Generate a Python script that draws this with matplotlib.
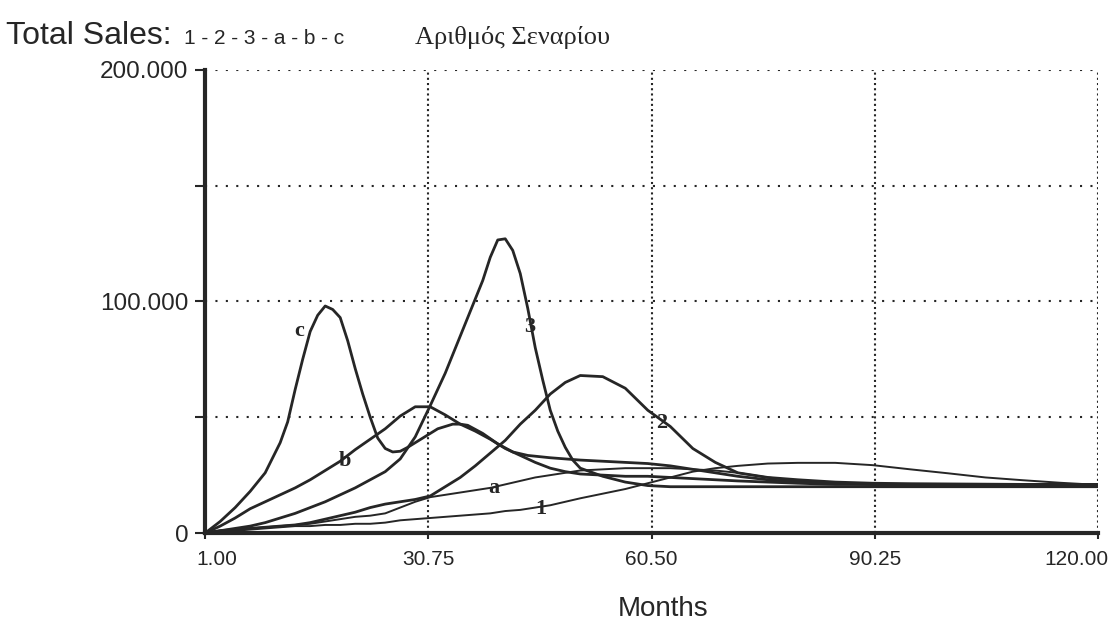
import matplotlib.pyplot as plt
from matplotlib.ticker import FixedLocator, FuncFormatter
from matplotlib.transforms import ScaledTranslation

# months sampled for the slower curves
months = [1, 3, 5, 7, 9, 11, 13, 15, 17, 19, 21, 23, 25, 27, 29, 31, 33, 35, 37, 39,
          41, 43, 45, 47, 49, 51, 54, 57, 60, 63, 66, 69, 72, 76, 80, 85, 90, 95, 100,
          105, 110, 115, 120]
# finer sampling around the sharp peaks of 3 and c
months_3 = [1, 3, 5, 7, 9, 11, 13, 15, 17, 19, 21, 23, 25, 27, 29, 31, 33, 35, 36, 37,
            38, 39, 40, 41, 42, 43, 44, 45, 46, 47, 48, 49, 50, 51, 54, 57, 60, 63, 66,
            70, 80, 90, 100, 110, 120]
months_c = [1, 3, 5, 7, 9, 11, 12, 13, 14, 15, 16, 17, 18, 19, 20, 21, 22, 23, 24, 25,
            26, 27, 28, 30, 32, 34, 35, 36, 38, 40, 42, 44, 47, 51, 54, 57, 60, 63, 66,
            69, 72, 76, 80, 85, 90, 100, 110, 120]

# total sales per scenario (thousands)
sales_1 = [0, 0.5, 1, 1.5, 2, 2.5, 3, 3, 3.5, 3.5, 4, 4, 4.5, 5.5, 6, 6.5, 7, 7.5, 8, 8.5,
           9.5, 10, 11, 12, 13.5, 15, 17, 19, 21.5, 24, 26.5, 28, 29, 30, 30.3, 30.3, 29.3,
           27.5, 25.8, 24, 22.8, 21.7, 20.8]
sales_2 = [0, 1, 1.5, 2, 2.5, 3, 3.5, 4.5, 6, 7.5, 9, 11, 12.5, 13.5, 14.5, 16, 20, 24, 29,
           34.5, 40, 47, 53, 60, 65, 68, 67.5, 62.5, 53, 46, 36.5, 30.5, 26, 24, 23, 22,
           21.5, 21.3, 21.2, 21.1, 21, 21, 21]
sales_3 = [0, 1, 2, 3, 4.5, 6.5, 8.5, 11, 13.5, 16.5, 19.5, 23, 26.5, 32, 41.5, 55, 69, 85,
           93, 101, 109, 119, 126.5, 127, 122, 112, 97, 80, 66, 53, 44, 37, 31.5, 28, 24.5,
           22, 20.5, 20, 20, 20, 20, 20, 20, 20, 20]
sales_a = [0, 1, 1.5, 2, 2.5, 3, 3.5, 4, 5, 6, 7, 7.5, 8.5, 11, 13.5, 15.5, 16.5, 17.5,
           18.5, 19.5, 21, 22.5, 24, 25, 26, 27, 27.5, 28, 28, 28, 27.5, 27, 26, 24, 22.5,
           21.5, 21, 21, 21, 21, 21, 21, 21]
sales_b = [0, 3, 6.5, 10.5, 13.5, 16.5, 19.5, 23, 27, 31, 36, 40.5, 45, 50.5, 54.5, 54.5,
           51, 47, 44, 40.5, 36.5, 33.5, 30.5, 28, 26.5, 25.5, 25, 24.5, 24.5, 24, 23.5,
           23, 22.5, 22, 21.5, 21, 21, 21, 21, 21, 21, 21, 21]
sales_c = [0, 5, 11, 18, 26, 39, 48, 62, 75, 87, 94, 98, 96.5, 93, 83, 71, 60, 50, 41, 36.5,
           35, 35.3, 37, 41, 45, 47, 47, 46.5, 43, 38.5, 35, 33.5, 32.5, 31.5, 31, 30.5, 30,
           29, 27.5, 26, 24.5, 23, 22, 21.5, 21, 21, 20.8, 20.7]

series_names = ['1', '2', '3', 'a', 'b', 'c']
series_months = [months, months, months_3, months, months, months_c]
series_values = [sales_1, sales_2, sales_3, sales_a, sales_b, sales_c]
# where each curve's name is written (month, thousands)
label_pos = [(45.8, 10.4), (61.8, 47.5), (44.2, 89), (39.5, 19.5), (19.6, 31), (13.5, 87)]

x_ticks = [1.00, 30.75, 60.50, 90.25, 120.00]
y_ticks = [0, 50000, 100000, 150000, 200000]
y_tick_labels = {0: '0', 100000: '100.000', 200000: '200.000'}

ink = '#262626'

fig = plt.figure(figsize=(11.09, 6.22), dpi=100)
ax = fig.add_axes([0.185, 0.143, 0.805, 0.745])

for name, mx, vals, (lx, ly) in zip(series_names, series_months, series_values, label_pos):
    lw = 1.4 if name in ('1', 'a') else 2.0
    ax.plot(mx, [v * 1000 for v in vals], color=ink, lw=lw, solid_joinstyle='round')
    ax.text(lx, ly * 1000, name, family='Liberation Serif', fontsize=16,
            fontweight='bold', color=ink, ha='center', va='center')

ax.set_xlim(1, 120)
ax.set_ylim(0, 200000)

# dotted grid, including the top and right borders
for yv in y_ticks[1:]:
    ax.axhline(yv, color=ink, lw=1.5, ls=(0, (1, 4)), zorder=0)
for xv in x_ticks[1:]:
    ax.axvline(xv, color=ink, lw=1.5, ls=(0, (1, 1.5)), zorder=0)

for side in ('top', 'right'):
    ax.spines[side].set_visible(False)
for side in ('left', 'bottom'):
    ax.spines[side].set_linewidth(3)
    ax.spines[side].set_color(ink)

ax.xaxis.set_major_locator(FixedLocator(x_ticks))
ax.xaxis.set_major_formatter(FuncFormatter(lambda v, p: f'{v:.2f}'))
ax.yaxis.set_major_locator(FixedLocator(y_ticks))
ax.yaxis.set_major_formatter(FuncFormatter(lambda v, p: y_tick_labels.get(int(round(v)), '')))
ax.tick_params(axis='x', length=4, width=1.5, colors=ink, labelsize=15, pad=8)
ax.tick_params(axis='y', length=7, width=1.5, colors=ink, labelsize=17.5, pad=5)
for lab in ax.get_xticklabels() + ax.get_yticklabels():
    lab.set_family('Liberation Sans')

# end labels sit inside the axis span, as in the original
xlabels = ax.get_xticklabels()
xlabels[0].set_transform(xlabels[0].get_transform() + ScaledTranslation(0.12, 0, fig.dpi_scale_trans))
xlabels[-1].set_transform(xlabels[-1].get_transform() + ScaledTranslation(-0.21, 0, fig.dpi_scale_trans))

ax.set_xlabel('Months', family='Liberation Sans', fontsize=20, color=ink)
ax.xaxis.set_label_coords(0.513, -0.135)

fig.text(0.005, 0.93, 'Total Sales:', family='Liberation Sans', fontsize=23, color=ink,
         va='baseline')
fig.text(0.166, 0.93, '1 - 2 - 3 - a - b - c', family='Liberation Sans', fontsize=15,
         color=ink, va='baseline')
fig.text(0.374, 0.93, 'Αριθμός Σεναρίου', family='Liberation Serif', fontsize=19,
         color=ink, va='baseline')

fig.savefig('out.png', dpi=100, facecolor='white')
